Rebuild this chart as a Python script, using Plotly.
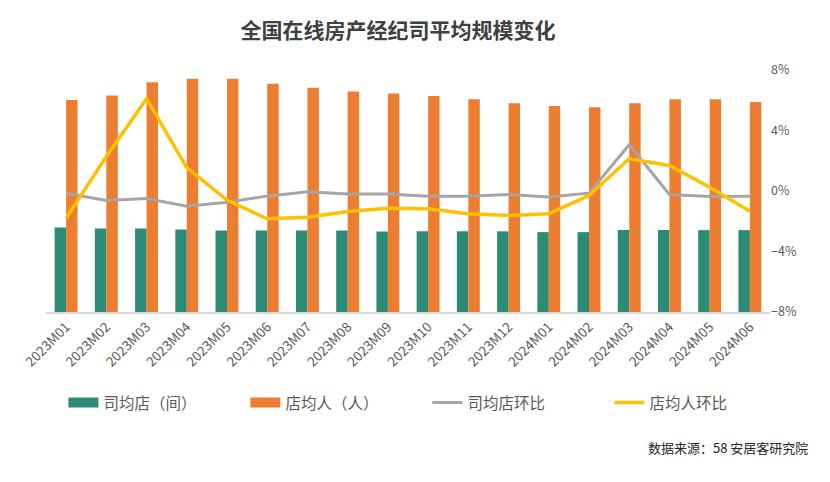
import plotly.graph_objects as go

# months on the x axis
months = ['2023M01', '2023M02', '2023M03', '2023M04', '2023M05', '2023M06',
          '2023M07', '2023M08', '2023M09', '2023M10', '2023M11', '2023M12',
          '2024M01', '2024M02', '2024M03', '2024M04', '2024M05', '2024M06']

# bar values (left axis, hidden)
stores_per_co = [4.19, 4.14, 4.14, 4.09, 4.04, 4.04, 4.04, 4.04, 3.99,
                 4.01, 4.00, 4.00, 3.96, 3.96, 4.06, 4.06, 4.06, 4.06]
staff_per_store = [10.51, 10.74, 11.39, 11.57, 11.57, 11.32, 11.12, 10.94, 10.84,
                   10.71, 10.55, 10.35, 10.21, 10.15, 10.35, 10.55, 10.55, 10.41]

# month-on-month change, % (right axis)
stores_mom = [-0.15, -0.63, -0.5, -1.0, -0.74, -0.34, -0.05, -0.2, -0.2,
              -0.34, -0.34, -0.23, -0.4, -0.14, 3.06, -0.23, -0.36, -0.34]
staff_mom = [-1.8, 2.28, 6.1, 1.54, -0.6, -1.84, -1.73, -1.36, -1.14,
             -1.18, -1.5, -1.62, -1.5, -0.3, 2.13, 1.69, 0.25, -1.34]

GREEN = '#2b8b76'
ORANGE = '#ed7d31'
GREY = '#a5a5a5'
YELLOW = '#ffc000'
FONT = 'Noto Sans CJK SC'

fig = go.Figure()

fig.add_trace(go.Bar(x=months, y=stores_per_co, name='司均店（间）',
                     legendgroup='g', showlegend=False,
                     marker=dict(color=GREEN, line=dict(width=0))))
fig.add_trace(go.Bar(x=months, y=staff_per_store, name='店均人（人）',
                     legendgroup='o', showlegend=False,
                     marker=dict(color=ORANGE, line=dict(width=0))))

# wide rectangular swatches for the bar series (legend only)
fig.add_trace(go.Scatter(x=[None], y=[None], name='司均店（间）', legendgroup='g',
                         mode='lines', line=dict(color=GREEN, width=11)))
fig.add_trace(go.Scatter(x=[None], y=[None], name='店均人（人）', legendgroup='o',
                         mode='lines', line=dict(color=ORANGE, width=11)))

fig.add_trace(go.Scatter(x=months, y=stores_mom, name='司均店环比', yaxis='y2',
                         mode='lines', line=dict(color=GREY, width=3)))
fig.add_trace(go.Scatter(x=months, y=staff_mom, name='店均人环比', yaxis='y2',
                         mode='lines', line=dict(color=YELLOW, width=3.5)))

# page body adds an 8px offset, margins compensate for it
fig.update_layout(
    width=830, height=482,
    margin=dict(l=32, r=68, t=62, b=178),
    plot_bgcolor='white', paper_bgcolor='white',
    font=dict(family=FONT, color='#595959'),
    title=dict(text='<b>全国在线房产经纪司平均规模变化</b>',
               x=0.47, xanchor='center', y=0.954, yanchor='middle',
               font=dict(size=21, color='#404040', family=FONT)),
    barmode='group', bargap=0.43, bargroupgap=0,
    xaxis=dict(tickangle=-45, tickfont=dict(size=13.5, color='#595959'),
               showline=True, linecolor='#d9d9d9', linewidth=1.5,
               showgrid=False, ticks=''),
    yaxis=dict(visible=False, range=[0, 12], showgrid=False),
    yaxis2=dict(overlaying='y', side='right', range=[-8, 8], dtick=4,
                ticksuffix='%', showgrid=False, zeroline=False,
                tickfont=dict(size=12.5, color='#595959')),
    legend=dict(orientation='h', x=0.024, xanchor='left', y=-0.376, yanchor='middle',
                font=dict(size=15.5, color='#595959'), entrywidth=137,
                entrywidthmode='pixels', traceorder='normal'),
    showlegend=True,
)

fig.add_annotation(text='数据来源：58 安居客研究院', xref='paper', yref='paper',
                   x=1.055, y=-0.558, xanchor='right', yanchor='middle',
                   showarrow=False, font=dict(size=13, color='#262626', family=FONT))

fig.write_html('out.html')
